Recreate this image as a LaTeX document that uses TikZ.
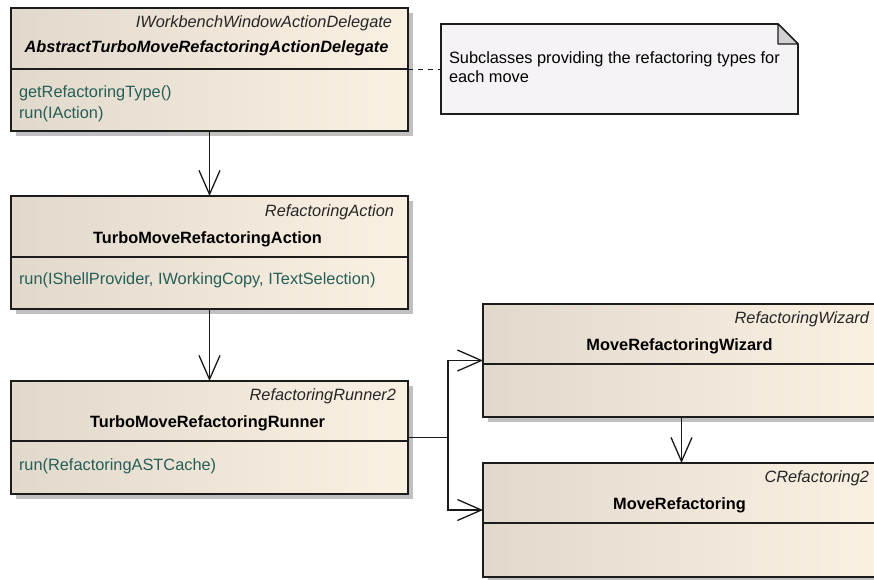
\documentclass[tikz,border=0pt]{standalone}
\usepackage{fontspec}
\setmainfont{Liberation Sans}
\usetikzlibrary{arrows.meta,calc,shadows}

\definecolor{classL}{RGB}{225,217,204}
\definecolor{classR}{RGB}{251,241,227}
\definecolor{methodc}{RGB}{38,94,88}
\definecolor{notefill}{RGB}{246,243,246}
\definecolor{foldfill}{RGB}{211,208,212}
\definecolor{shadowc}{RGB}{192,192,192}
\definecolor{edgec}{RGB}{28,28,28}

\newcommand{\umlfont}{\fontsize{16.35}{20}\selectfont}

\begin{document}
\begin{tikzpicture}[x=1pt,y=-1pt,
  every node/.style={inner sep=0pt, outer sep=0pt, font=\umlfont},
  classbox/.style={rectangle, anchor=north west, draw=edgec, line width=1.8pt,
    left color=classL, right color=classR, minimum width=397pt,
    drop shadow={shadow xshift=5pt, shadow yshift=-5pt, fill=shadowc, opacity=1}},
  stereo/.style={anchor=base east, font=\umlfont\itshape, text=black!85},
  cname/.style={anchor=base, font=\umlfont\bfseries},
  method/.style={anchor=base west, text=methodc},
  sepline/.style={draw=edgec, line width=1.5pt},
  assoc/.style={draw=black!90, line width=1.3pt, -{Straight Barb[length=24pt,width=21pt]}},
  link/.style={draw=black!90, line width=1.2pt, dash pattern=on 5pt off 5pt},
  notebody/.style={draw=edgec, line width=1.6pt, fill=notefill},
]
\useasboundingbox (0,0) rectangle (874,579);
\clip (0,0) rectangle (874,579);

% ---- class boxes ----
\node[classbox, minimum height=123pt] (c1) at (11,8) {};
\node[classbox, minimum height=113pt] (c2) at (11,196) {};
\node[classbox, minimum height=113pt] (c3) at (11,381) {};
\node[classbox, minimum height=113pt] (c4) at (483,304) {};
\node[classbox, minimum height=114pt] (c5) at (483,463) {};

% compartment separators
\foreach \c/\d in {c1/61, c2/61, c3/60, c4/60, c5/60}
  \draw[sepline] ($(\c.north west)+(0,\d)$) -- ($(\c.north east)+(0,\d)$);

% AbstractTurboMoveRefactoringActionDelegate
\node[stereo] (c1s) at ($(c1.north east)+(-16,19)$) {IWorkbenchWindowActionDelegate};
\node[cname, font=\umlfont\bfseries\itshape] (c1n) at ($(c1.north)+(-3,44)$) {AbstractTurboMoveRefactoringActionDelegate};
\node[method] (c1m1) at ($(c1.north west)+(8,89)$) {getRefactoringType()};
\node[method] (c1m2) at ($(c1.north west)+(8,110)$) {run(IAction)};

% TurboMoveRefactoringAction
\node[stereo] (c2s) at ($(c2.north east)+(-14,20)$) {RefactoringAction};
\node[cname] (c2n) at ($(c2.north)+(-2,47)$) {TurboMoveRefactoringAction};
\node[method] (c2m1) at ($(c2.north west)+(8,88)$) {run(IShellProvider, IWorkingCopy, ITextSelection)};

% TurboMoveRefactoringRunner
\node[stereo] (c3s) at ($(c3.north east)+(-12,19)$) {RefactoringRunner2};
\node[cname] (c3n) at ($(c3.north)+(-2,46)$) {TurboMoveRefactoringRunner};
\node[method] (c3m1) at ($(c3.north west)+(8,89)$) {run(RefactoringASTCache)};

% MoveRefactoringWizard
\node[stereo] (c4s) at ($(c4.north east)+(-11,19)$) {RefactoringWizard};
\node[cname] (c4n) at ($(c4.north)+(-2,46)$) {MoveRefactoringWizard};

% MoveRefactoring
\node[stereo] (c5s) at ($(c5.north east)+(-11,19)$) {CRefactoring2};
\node[cname] (c5n) at ($(c5.north)+(-2,46)$) {MoveRefactoring};

% ---- note ----
\node[rectangle, anchor=north west, minimum width=357pt, minimum height=90pt] (note) at (441,24) {};
\fill[shadowc, xshift=5pt, yshift=-5pt]
  (note.north west) -- ([xshift=-20pt]note.north east) -- ([yshift=-20pt]note.north east)
  -- (note.south east) -- (note.south west) -- cycle;
\path[notebody]
  (note.north west) -- ([xshift=-20pt]note.north east) -- ([yshift=-20pt]note.north east)
  -- (note.south east) -- (note.south west) -- cycle;
\filldraw[fill=foldfill, draw=edgec, line width=1.4pt, line join=round]
  ([xshift=-20pt]note.north east) -- ([xshift=-20pt,yshift=-20pt]note.north east)
  -- ([yshift=-20pt]note.north east) -- cycle;
\node[anchor=base west] (nt1) at ($(note.north west)+(8,39)$) {Subclasses providing the refactoring types for};
\node[anchor=base west] (nt2) at ($(note.north west)+(8,58)$) {each move};

% ---- connectors ----
\draw[link] (c1.east) -- (c1.east -| note.west);
\draw[assoc] (c1.south) -- (c2.north);
\draw[assoc] (c2.south) -- (c3.north);
\draw[assoc] (c4.south) -- (c5.north);
\coordinate (fork) at ($(c3.east)+(40,0)$);
\draw[draw=black!90, line width=1.3pt] (c3.east) -- (fork);
\draw[assoc] (fork) |- (c4.west);
\draw[assoc] (fork) |- ([yshift=10pt]c5.west);
\end{tikzpicture}
\end{document}
